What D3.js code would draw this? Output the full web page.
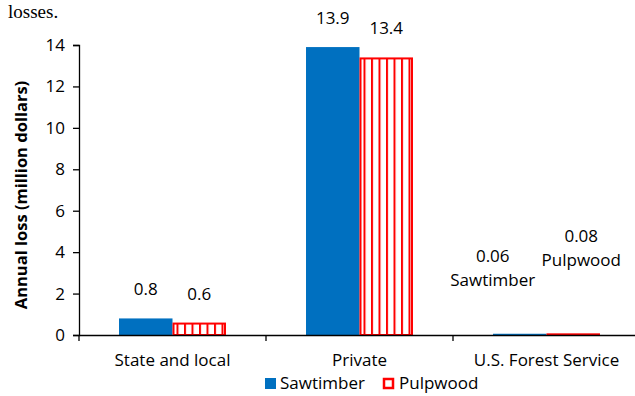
<!DOCTYPE html>
<html lang="en">
<head>
<meta charset="UTF-8">
<title>Annual loss</title>
<script src="https://cdnjs.cloudflare.com/ajax/libs/d3/7.8.5/d3.min.js"></script>
<style>
  body { margin: 0; background: #fff; }
  text { font-family: "Open Sans", sans-serif; fill: #000; }
</style>
</head>
<body>
<div id="chart"></div>
<script>
// data
const categories = ["State and local", "Private", "U.S. Forest Service"];
const series = ["Sawtimber", "Pulpwood"];
const sawtimber = [0.8, 13.9, 0.06];
const pulpwood = [0.6, 13.4, 0.08];
const yTicks = [0, 2, 4, 6, 8, 10, 12, 14];

const width = 635, height = 396;
const blue = "#0070c0", red = "#ff0000";
const fontSize = "17px";

const svg = d3.select("#chart").append("svg")
    .attr("width", width)
    .attr("height", height);

// pattern for the pulpwood bars: white with red vertical stripes
const defs = svg.append("defs");
const pat = defs.append("pattern")
    .attr("id", "stripes")
    .attr("patternUnits", "userSpaceOnUse")
    .attr("width", 7.5)
    .attr("height", 10);
pat.append("rect").attr("width", 7.5).attr("height", 10).attr("fill", "#fff");
pat.append("rect").attr("x", 0).attr("width", 2).attr("height", 10).attr("fill", red);

// text from the page above the chart (cut off in the original)
svg.append("text")
    .attr("x", 8).attr("y", 18)
    .style("font-family", "'Liberation Serif', serif")
    .style("font-size", "19px")
    .text("losses.");

const x0 = d3.scaleBand().domain(categories).range([79, 640]);
const x1 = d3.scaleBand().domain(series).range([0, x0.bandwidth()])
    .paddingInner(0).paddingOuter(0.748);
const y = d3.scaleLinear().domain([0, 14]).range([335, 45]);

// y axis
const yAxis = svg.append("g")
    .attr("transform", "translate(79,0)")
    .call(d3.axisLeft(y).tickValues(yTicks).tickSize(6).tickPadding(8));
yAxis.select(".domain").attr("stroke", "#000").attr("stroke-width", 1.3);
yAxis.selectAll(".tick line").attr("stroke", "#000").attr("stroke-width", 1.3);
yAxis.selectAll("text").style("font-size", fontSize).style("font-family", "'Open Sans', sans-serif");

// y axis title
svg.append("text")
    .attr("transform", "translate(27,195) rotate(-90)")
    .attr("text-anchor", "middle")
    .style("font-size", "16.5px")
    .style("font-weight", "bold")
    .text("Annual loss (million dollars)");

// bars
const rows = categories.map((c, i) => ({ cat: c, vals: [
    { s: "Sawtimber", v: sawtimber[i] },
    { s: "Pulpwood", v: pulpwood[i] }
]}));

const groups = svg.selectAll(".grp")
    .data(rows)
    .enter().append("g")
    .attr("class", "grp")
    .attr("transform", d => `translate(${x0(d.cat)},0)`);

groups.selectAll("rect")
    .data(d => d.vals)
    .enter().append("rect")
    .attr("x", d => x1(d.s) + (d.s === "Pulpwood" ? 1 : 0))
    .attr("y", d => y(d.v) + (d.s === "Pulpwood" ? 1 : 0))
    .attr("width", d => x1.bandwidth() - (d.s === "Pulpwood" ? 2 : 0))
    .attr("height", d => Math.max(0.5, y(0) - y(d.v) - (d.s === "Pulpwood" ? 1 : 0)))
    .attr("fill", d => d.s === "Sawtimber" ? blue : "url(#stripes)")
    .attr("stroke", d => d.s === "Sawtimber" ? "none" : red)
    .attr("stroke-width", 2);

// value labels (first two groups sit just above the bars)
groups.filter((d, i) => i < 2).selectAll(".val")
    .data(d => d.vals)
    .enter().append("text")
    .attr("class", "val")
    .attr("x", d => x1(d.s) + x1.bandwidth() / 2)
    .attr("y", d => y(d.v) - 23)
    .attr("text-anchor", "middle")
    .style("font-size", fontSize)
    .text(d => d.v);

// U.S. Forest Service labels are placed higher, with the series name
const fs = categories[2];
const fsLabels = [
    { s: "Sawtimber", v: sawtimber[2], dx: -27, dy: -72 },
    { s: "Pulpwood", v: pulpwood[2], dx: 8, dy: -91 }
];
fsLabels.forEach(l => {
    const cx = x0(fs) + x1(l.s) + x1.bandwidth() / 2 + l.dx;
    const t = svg.append("text")
        .attr("x", cx)
        .attr("y", y(l.v) + l.dy)
        .attr("text-anchor", "middle")
        .style("font-size", fontSize);
    t.append("tspan").attr("x", cx).text(l.v);
    t.append("tspan").attr("x", cx).attr("dy", 24).text(l.s);
});

// x axis
const xAxis = svg.append("g")
    .attr("transform", "translate(0,335)")
    .call(d3.axisBottom(x0).tickSize(0).tickPadding(19));
xAxis.select(".domain").attr("stroke", "#000").attr("stroke-width", 1.3);
xAxis.selectAll("text").style("font-size", fontSize).style("font-family", "'Open Sans', sans-serif");

// category separator ticks
svg.selectAll(".sep")
    .data(categories)
    .enter().append("line")
    .attr("class", "sep")
    .attr("x1", d => x0(d)).attr("x2", d => x0(d))
    .attr("y1", 335).attr("y2", 341)
    .attr("stroke", "#000").attr("stroke-width", 1.3);

// legend
const legend = svg.append("g").attr("transform", "translate(265,378)");
legend.append("rect").attr("x", 0).attr("y", 0).attr("width", 11).attr("height", 11).attr("fill", blue);
legend.append("text").attr("x", 15).attr("y", 11).style("font-size", fontSize).text(series[0]);
legend.append("rect").attr("x", 119).attr("y", 1).attr("width", 9).attr("height", 9)
    .attr("fill", "#fff").attr("stroke", red).attr("stroke-width", 2.5);
legend.append("text").attr("x", 134).attr("y", 11).style("font-size", fontSize).text(series[1]);
</script>
</body>
</html>
